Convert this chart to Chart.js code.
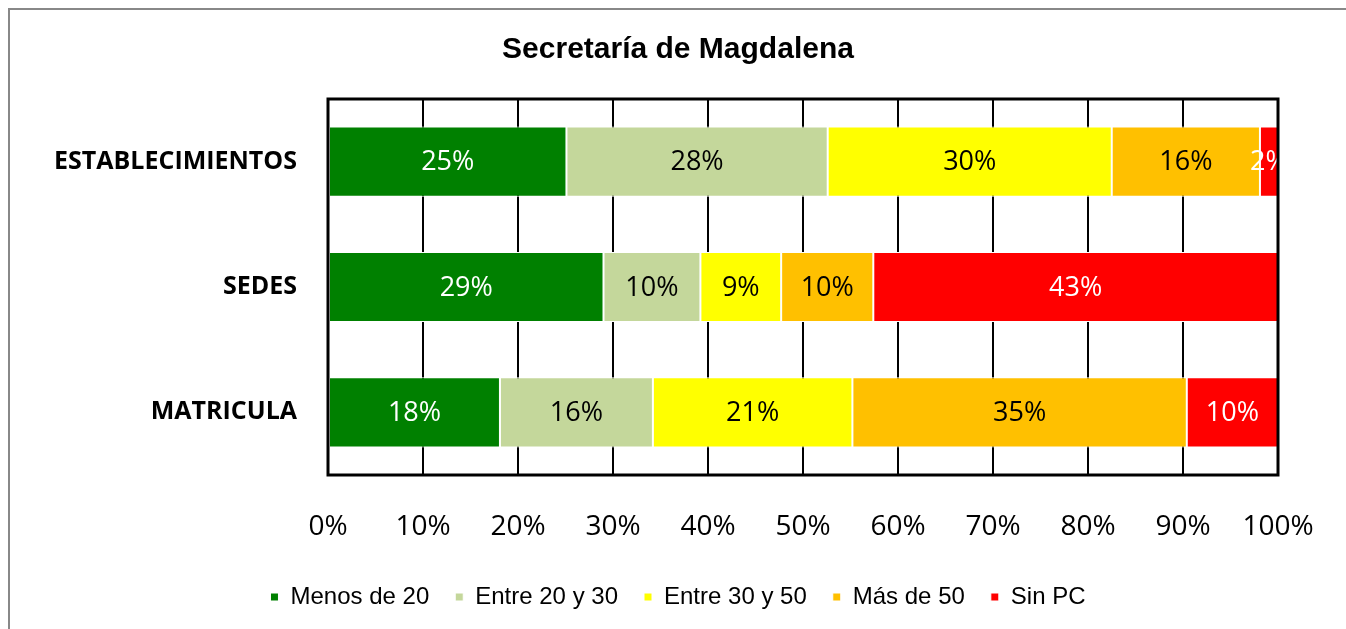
<!DOCTYPE html>
<html lang="es">
<head>
<meta charset="UTF-8">
<title>Secretaría de Magdalena</title>
<script src="https://cdn.jsdelivr.net/npm/chart.js"></script>
<style>
  html, body { margin: 0; padding: 0; background: #fff; overflow: hidden; }
  #frame { position: absolute; left: 8px; top: 8px; width: 1400px; height: 700px;
           border-left: 2px solid #888; border-top: 2px solid #888; }
  #wrap { position: absolute; left: 0; top: 0; width: 1356px; height: 629px; }
</style>
</head>
<body>
<div id="frame"></div>
<div id="wrap"><canvas id="chart" width="1356" height="629"></canvas></div>
<script>
// categories and series (percent of each row)
const categories = ['ESTABLECIMIENTOS', 'SEDES', 'MATRICULA'];
const seriesNames = ['Menos de 20', 'Entre 20 y 30', 'Entre 30 y 50', 'Más de 50', 'Sin PC'];
const menos20 = [25.1, 29.0, 18.1];
const entre20y30 = [27.5, 10.2, 16.1];
const entre30y50 = [29.9, 8.5, 21.0];
const mas50 = [15.6, 9.7, 35.2];
const sinPC = [1.9, 42.6, 9.6];
const xTicks = [0, 10, 20, 30, 40, 50, 60, 70, 80, 90, 100];

const colors = ['#008000', '#C4D79B', '#FFFF00', '#FFC000', '#FF0000'];
const labelColors = ['#fff', '#000', '#000', '#000', '#fff'];
const values = [menos20, entre20y30, entre30y50, mas50, sinPC];

// value labels inside the bars
const barLabels = {
  id: 'barLabels',
  afterDatasetsDraw(chart) {
    const ctx = chart.ctx, a = chart.chartArea;
    ctx.save();
    ctx.beginPath();
    ctx.rect(a.left, a.top, a.right - a.left, a.bottom - a.top);
    ctx.clip();
    ctx.font = '27px "Open Sans"';
    ctx.textAlign = 'center';
    ctx.textBaseline = 'middle';
    chart.data.datasets.forEach((ds, i) => {
      chart.getDatasetMeta(i).data.forEach((el, j) => {
        ctx.fillStyle = labelColors[i];
        ctx.fillText(Math.round(ds.data[j]) + '%', (el.x + el.base) / 2, el.y + 1);
      });
    });
    ctx.restore();
  }
};

// black frame round the plot area
const plotFrame = {
  id: 'plotFrame',
  afterDraw(chart) {
    const ctx = chart.ctx, a = chart.chartArea;
    ctx.save();
    ctx.strokeStyle = '#000';
    ctx.lineWidth = 3;
    ctx.strokeRect(a.left, a.top, a.right - a.left, a.bottom - a.top);
    ctx.restore();
  }
};

new Chart(document.getElementById('chart'), {
  type: 'bar',
  data: {
    labels: categories,
    datasets: seriesNames.map((name, i) => ({
      label: name,
      data: values[i],
      backgroundColor: colors[i],
      borderColor: '#fff',
      borderWidth: 1,
      borderSkipped: false,
      categoryPercentage: 1,
      barPercentage: 0.56
    }))
  },
  options: {
    indexAxis: 'y',
    responsive: false,
    animation: false,
    layout: { padding: { left: 0, right: 0, top: 0, bottom: 10 } },
    scales: {
      x: {
        stacked: true,
        min: 0,
        max: 100,
        afterBuildTicks(scale) { scale.ticks = xTicks.map(v => ({ value: v })); },
        afterFit(scale) { scale.height = 84; },
        grid: { color: '#000', lineWidth: 2, drawTicks: false },
        border: { display: false },
        ticks: {
          padding: 35,
          color: '#000',
          font: { family: '"Open Sans"', size: 28 },
          callback: v => v + '%'
        }
      },
      y: {
        stacked: true,
        afterFit(scale) { scale.width = 328; },
        grid: { display: false, drawTicks: false },
        border: { display: false },
        ticks: {
          padding: 31,
          color: '#000',
          font: { family: '"Open Sans"', size: 25, weight: 'bold' }
        }
      },
      // empty spacer on the right so title and legend centre like the original
      spacer: {
        type: 'category',
        position: 'right',
        afterFit(scale) { scale.width = 78; },
        grid: { display: false, drawTicks: false },
        border: { display: false },
        ticks: { display: false }
      }
    },
    plugins: {
      title: {
        display: true,
        text: 'Secretaría de Magdalena',
        color: '#000',
        font: { family: '"Liberation Sans", Arial', size: 30, weight: 'bold' },
        padding: { top: 32, bottom: 31 }
      },
      legend: {
        position: 'bottom',
        labels: {
          boxWidth: 8,
          boxHeight: 8,
          padding: 26,
          color: '#000',
          font: { family: '"Liberation Sans", Arial', size: 24 }
        }
      },
      tooltip: { enabled: false }
    }
  },
  plugins: [barLabels, plotFrame]
});
</script>
</body>
</html>
